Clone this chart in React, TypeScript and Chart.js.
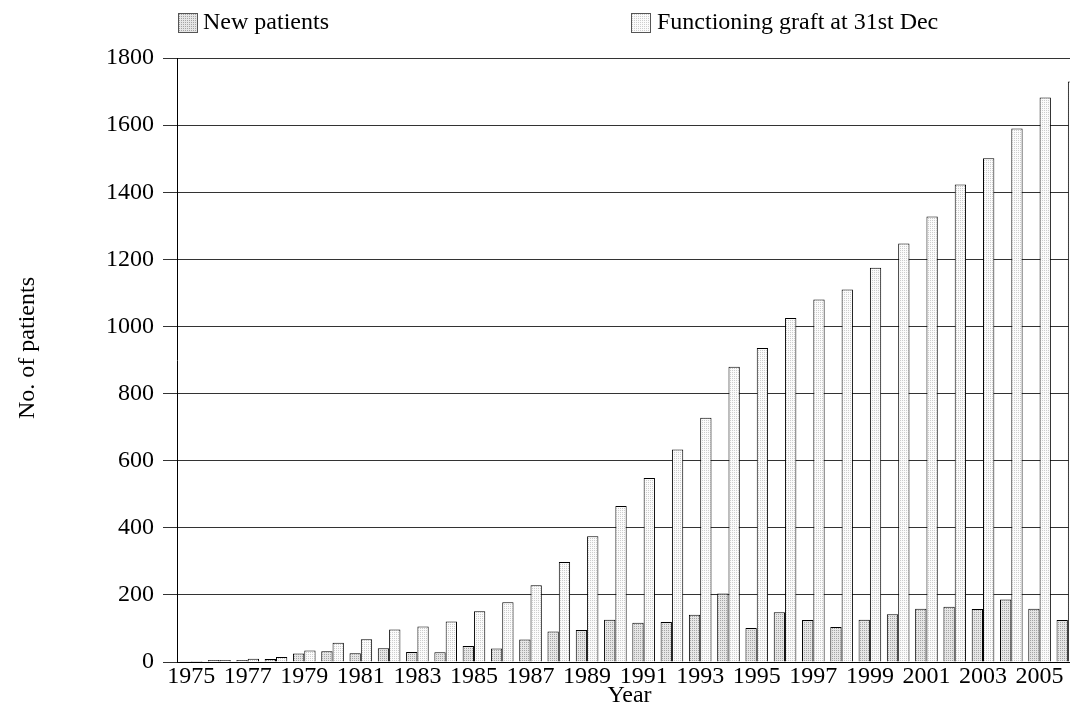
import { useEffect, useRef } from 'react';
import Chart from 'chart.js/auto';

const years = [
  '1975', '1976', '1977', '1978', '1979', '1980', '1981', '1982', '1983', '1984',
  '1985', '1986', '1987', '1988', '1989', '1990', '1991', '1992', '1993', '1994',
  '1995', '1996', '1997', '1998', '1999', '2000', '2001', '2002', '2003', '2004',
  '2005', '2006',
];

const newPatients = [
  2, 6, 6, 9, 25, 32, 26, 41, 30, 29,
  48, 40, 67, 91, 95, 126, 117, 119, 141, 204,
  101, 148, 125, 104, 126, 142, 159, 165, 158, 186,
  159, 125,
];

const functioningGraft = [
  3, 6, 10, 15, 34, 57, 68, 97, 106, 121,
  151, 178, 229, 298, 375, 465, 548, 633, 728, 880,
  936, 1025, 1080, 1110, 1175, 1247, 1328, 1423, 1501, 1590,
  1682, 1730,
];

const seriesLabels = ['New patients', 'Functioning graft at 31st Dec'];

const FONT = "'Liberation Serif', 'Times New Roman', serif";
const FONT_SIZE = 24;

// fine stipple tile, like the old print-style fills
const makeTile = (base: string, dot: string) => {
  const c = document.createElement('canvas');
  c.width = 2;
  c.height = 2;
  const g = c.getContext('2d')!;
  g.fillStyle = base;
  g.fillRect(0, 0, 2, 2);
  g.fillStyle = dot;
  g.fillRect(0, 0, 1, 1);
  return c;
};

const App = () => {
  const chartRef = useRef<HTMLCanvasElement>(null);
  const chartInstance = useRef<Chart | null>(null);
  const newTile = useRef<HTMLCanvasElement | null>(null);
  const funcTile = useRef<HTMLCanvasElement | null>(null);

  if (!newTile.current) newTile.current = makeTile('#e6e6e6', '#a4a4a4');
  if (!funcTile.current) funcTile.current = makeTile('#fbfbfb', '#cdcdcd');

  useEffect(() => {
    if (!chartRef.current) return;
    if (chartInstance.current) chartInstance.current.destroy();
    const ctx = chartRef.current.getContext('2d');
    if (!ctx) return;

    const newFill = ctx.createPattern(newTile.current!, 'repeat')!;
    const funcFill = ctx.createPattern(funcTile.current!, 'repeat')!;

    chartInstance.current = new Chart(ctx, {
      type: 'bar',
      data: {
        labels: years,
        datasets: [
          {
            label: seriesLabels[0],
            data: newPatients,
            backgroundColor: newFill,
            borderColor: '#000',
            borderWidth: 1,
            categoryPercentage: 0.8,
            barPercentage: 1.0,
          },
          {
            label: seriesLabels[1],
            data: functioningGraft,
            backgroundColor: funcFill,
            borderColor: '#000',
            borderWidth: 1,
            categoryPercentage: 0.8,
            barPercentage: 1.0,
          },
        ],
      },
      options: {
        responsive: true,
        maintainAspectRatio: false,
        animation: false,
        layout: { padding: { top: 58, right: 8, bottom: 0, left: 0 } },
        plugins: {
          legend: { display: false },
          tooltip: { enabled: false },
        },
        scales: {
          x: {
            grid: { display: false, drawTicks: false },
            border: { display: true, color: '#000', width: 1 },
            ticks: {
              autoSkip: false,
              maxRotation: 0,
              padding: 0,
              color: '#000',
              font: { family: FONT, size: FONT_SIZE },
              callback: (_v, i) => (i % 2 === 0 ? years[i] : ''),
            },
            title: {
              display: true,
              text: 'Year',
              color: '#000',
              font: { family: FONT, size: FONT_SIZE },
              padding: { top: 0, bottom: 0 },
            },
            afterFit: (scale) => {
              scale.height = 48;
            },
          },
          y: {
            min: 0,
            max: 1800,
            grid: { color: '#333', lineWidth: 1, drawTicks: true, tickLength: 14, tickColor: '#333' },
            border: { display: true, color: '#000', width: 1 },
            ticks: {
              stepSize: 200,
              padding: 9,
              color: '#000',
              font: { family: FONT, size: FONT_SIZE },
              callback: (v) => String(v),
            },
            title: {
              display: true,
              // leading spaces nudge the rotated title a little upward, as in the original
              text: '    No. of patients',
              color: '#000',
              font: { family: FONT, size: FONT_SIZE },
              padding: { top: 13, bottom: 0 },
            },
            afterFit: (scale) => {
              scale.width = 177;
            },
          },
        },
      },
    });

    return () => {
      if (chartInstance.current) {
        chartInstance.current.destroy();
        chartInstance.current = null;
      }
    };
  }, []);

  const swatch = (tile: HTMLCanvasElement | null, left: number) => (
    <div
      style={{
        position: 'absolute',
        left,
        top: 13,
        width: 18,
        height: 18,
        border: '1px solid #555',
        backgroundImage: tile ? `url(${tile.toDataURL()})` : undefined,
      }}
    />
  );

  const legendText = (text: string, left: number) => (
    <div
      style={{
        position: 'absolute',
        left,
        top: 7,
        fontFamily: FONT,
        fontSize: FONT_SIZE,
        lineHeight: '28px',
        color: '#000',
        whiteSpace: 'nowrap',
      }}
    >
      {text}
    </div>
  );

  return (
    <div style={{ position: 'fixed', left: 0, top: 0, width: '100vw', height: '100vh', overflow: 'hidden', background: '#fff' }}>
      <div style={{ position: 'relative', width: 1090, height: 710 }}>
        <canvas ref={chartRef}></canvas>
        {swatch(newTile.current, 178)}
        {legendText(seriesLabels[0], 203)}
        {swatch(funcTile.current, 631)}
        {legendText(seriesLabels[1], 657)}
      </div>
    </div>
  );
};

export default App;
